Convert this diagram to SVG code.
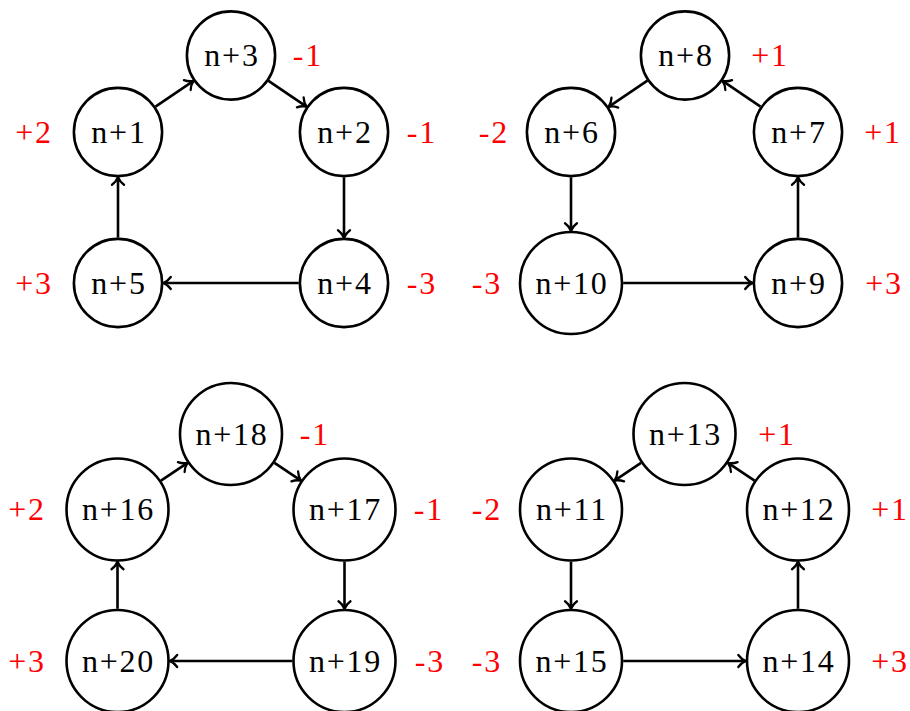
<svg xmlns="http://www.w3.org/2000/svg" width="910" height="711" viewBox="0 0 910 711">
<defs>
<marker id="tip" markerUnits="userSpaceOnUse" orient="auto" refX="0" refY="0" markerWidth="20" markerHeight="20" viewBox="-10 -10 20 20" overflow="visible">
<path d="M-7.5,-6 C-5.5,-3.2 -2.2,-0.9 0,0 C-2.2,0.9 -5.5,3.2 -7.5,6" fill="none" stroke="#000" stroke-width="2.3" stroke-linecap="round"/>
</marker>
</defs>
<g id="connectors" stroke="#000" stroke-width="2.6" fill="none">
<line x1="155.5" y1="106.6" x2="193.5" y2="80.9" marker-end="url(#tip)"/>
<line x1="268.5" y1="80.9" x2="306.5" y2="106.6" marker-end="url(#tip)"/>
<line x1="344" y1="177.3" x2="344" y2="237.7" marker-end="url(#tip)"/>
<line x1="298.7" y1="283" x2="163.3" y2="283" marker-end="url(#tip)"/>
<line x1="118" y1="237.7" x2="118" y2="177.3" marker-end="url(#tip)"/>
<line x1="647.4" y1="80.7" x2="608.6" y2="106.8" marker-end="url(#tip)"/>
<line x1="760.5" y1="106.6" x2="722.5" y2="80.9" marker-end="url(#tip)"/>
<line x1="571" y1="177.3" x2="571" y2="230.8" marker-end="url(#tip)"/>
<line x1="623.2" y1="283" x2="752.7" y2="283" marker-end="url(#tip)"/>
<line x1="798" y1="237.7" x2="798" y2="177.3" marker-end="url(#tip)"/>
<line x1="161" y1="480.6" x2="187.5" y2="462.9" marker-end="url(#tip)"/>
<line x1="274.5" y1="462.9" x2="301" y2="480.6" marker-end="url(#tip)"/>
<line x1="344.5" y1="561.7" x2="344.5" y2="608.8" marker-end="url(#tip)"/>
<line x1="292.3" y1="661" x2="169.7" y2="661" marker-end="url(#tip)"/>
<line x1="117.5" y1="608.8" x2="117.5" y2="561.7" marker-end="url(#tip)"/>
<line x1="641" y1="462.9" x2="614.5" y2="480.6" marker-end="url(#tip)"/>
<line x1="754.5" y1="480.6" x2="728" y2="462.9" marker-end="url(#tip)"/>
<line x1="571" y1="561.7" x2="571" y2="608.8" marker-end="url(#tip)"/>
<line x1="623.2" y1="661" x2="745.8" y2="661" marker-end="url(#tip)"/>
<line x1="798" y1="608.8" x2="798" y2="561.7" marker-end="url(#tip)"/>
</g>
<g id="nodes" font-family="'Liberation Serif', serif" font-size="32" text-anchor="middle" letter-spacing="1.8">
<g id="n1"><circle cx="118" cy="132" r="44.1" fill="#fff" stroke="#000" stroke-width="2.6"/><text x="119" y="142.5" fill="#000">n+1</text><text x="34" y="142.5" fill="#ff0000">+2</text></g>
<g id="n2"><circle cx="344" cy="132" r="44.1" fill="#fff" stroke="#000" stroke-width="2.6"/><text x="345" y="142.5" fill="#000">n+2</text><text x="422" y="142.5" fill="#ff0000">-1</text></g>
<g id="n3"><circle cx="231" cy="55.5" r="44.1" fill="#fff" stroke="#000" stroke-width="2.6"/><text x="232" y="66" fill="#000">n+3</text><text x="308" y="66" fill="#ff0000">-1</text></g>
<g id="n4"><circle cx="344" cy="283" r="44.1" fill="#fff" stroke="#000" stroke-width="2.6"/><text x="345" y="293.5" fill="#000">n+4</text><text x="422" y="293.5" fill="#ff0000">-3</text></g>
<g id="n5"><circle cx="118" cy="283" r="44.1" fill="#fff" stroke="#000" stroke-width="2.6"/><text x="119" y="293.5" fill="#000">n+5</text><text x="34" y="293.5" fill="#ff0000">+3</text></g>
<g id="n6"><circle cx="571" cy="132" r="44.1" fill="#fff" stroke="#000" stroke-width="2.6"/><text x="572" y="142.5" fill="#000">n+6</text><text x="494" y="142.5" fill="#ff0000">-2</text></g>
<g id="n7"><circle cx="798" cy="132" r="44.1" fill="#fff" stroke="#000" stroke-width="2.6"/><text x="799" y="142.5" fill="#000">n+7</text><text x="883" y="142.5" fill="#ff0000">+1</text></g>
<g id="n8"><circle cx="685" cy="55.5" r="44.1" fill="#fff" stroke="#000" stroke-width="2.6"/><text x="686" y="66" fill="#000">n+8</text><text x="770" y="66" fill="#ff0000">+1</text></g>
<g id="n9"><circle cx="798" cy="283" r="44.1" fill="#fff" stroke="#000" stroke-width="2.6"/><text x="799" y="293.5" fill="#000">n+9</text><text x="884" y="293.5" fill="#ff0000">+3</text></g>
<g id="n10"><circle cx="571" cy="283" r="51" fill="#fff" stroke="#000" stroke-width="2.6"/><text x="572" y="293.5" fill="#000">n+10</text><text x="487" y="293.5" fill="#ff0000">-3</text></g>
<g id="n11"><circle cx="571" cy="509.5" r="51" fill="#fff" stroke="#000" stroke-width="2.6"/><text x="572" y="520" fill="#000">n+11</text><text x="487" y="520" fill="#ff0000">-2</text></g>
<g id="n12"><circle cx="798" cy="509.5" r="51" fill="#fff" stroke="#000" stroke-width="2.6"/><text x="799" y="520" fill="#000">n+12</text><text x="890" y="520" fill="#ff0000">+1</text></g>
<g id="n13"><circle cx="684.5" cy="434" r="51" fill="#fff" stroke="#000" stroke-width="2.6"/><text x="685.5" y="444.5" fill="#000">n+13</text><text x="777" y="444.5" fill="#ff0000">+1</text></g>
<g id="n14"><circle cx="798" cy="661" r="51" fill="#fff" stroke="#000" stroke-width="2.6"/><text x="799" y="671.5" fill="#000">n+14</text><text x="890" y="671.5" fill="#ff0000">+3</text></g>
<g id="n15"><circle cx="571" cy="661" r="51" fill="#fff" stroke="#000" stroke-width="2.6"/><text x="572" y="671.5" fill="#000">n+15</text><text x="487" y="671.5" fill="#ff0000">-3</text></g>
<g id="n16"><circle cx="117.5" cy="509.5" r="51" fill="#fff" stroke="#000" stroke-width="2.6"/><text x="118.5" y="520" fill="#000">n+16</text><text x="27" y="520" fill="#ff0000">+2</text></g>
<g id="n17"><circle cx="344.5" cy="509.5" r="51" fill="#fff" stroke="#000" stroke-width="2.6"/><text x="345.5" y="520" fill="#000">n+17</text><text x="429" y="520" fill="#ff0000">-1</text></g>
<g id="n18"><circle cx="231" cy="434" r="51" fill="#fff" stroke="#000" stroke-width="2.6"/><text x="232" y="444.5" fill="#000">n+18</text><text x="315" y="444.5" fill="#ff0000">-1</text></g>
<g id="n19"><circle cx="344.5" cy="661" r="51" fill="#fff" stroke="#000" stroke-width="2.6"/><text x="345.5" y="671.5" fill="#000">n+19</text><text x="430" y="671.5" fill="#ff0000">-3</text></g>
<g id="n20"><circle cx="117.5" cy="661" r="51" fill="#fff" stroke="#000" stroke-width="2.6"/><text x="118.5" y="671.5" fill="#000">n+20</text><text x="27" y="671.5" fill="#ff0000">+3</text></g>
</g>
</svg>
